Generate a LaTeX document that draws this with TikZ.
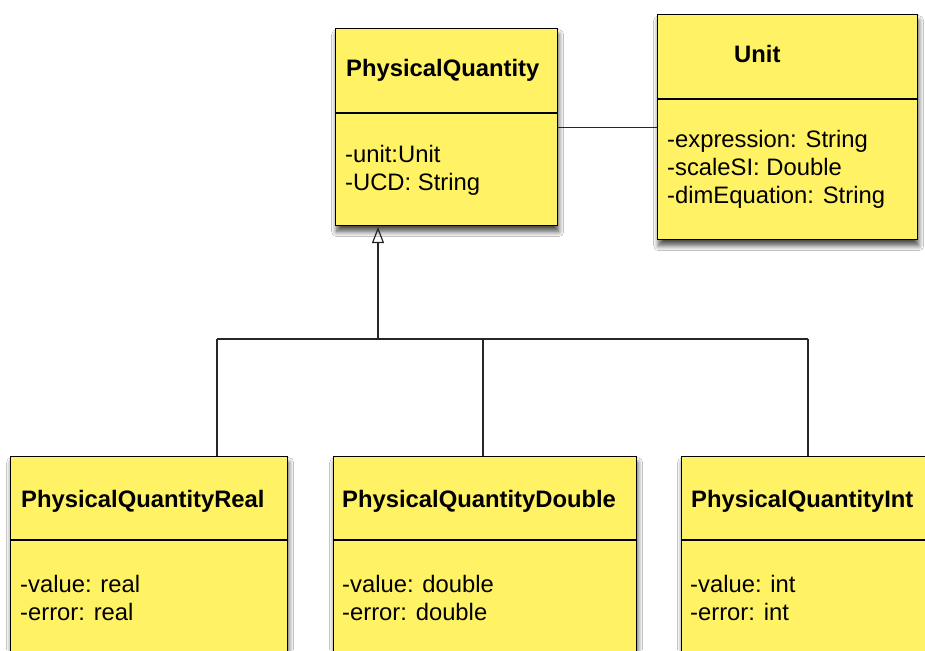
\documentclass[tikz,border=0pt]{standalone}
\usepackage{fontspec}
\setmainfont{Liberation Sans}
\usetikzlibrary{arrows.meta,shadows.blur,calc}
\definecolor{umlyellow}{RGB}{255,242,100}
\tikzset{
  classbox/.style={draw=black, line width=1.3pt, fill=umlyellow, inner sep=0pt, anchor=north west,
    blur shadow={shadow xshift=1pt, shadow yshift=-6pt, shadow blur radius=5pt, shadow blur steps=8, shadow opacity=70}},
  divider/.style={draw=black, line width=1.1pt},
  cname/.style={anchor=base west, inner sep=0pt, font=\fontsize{23.8}{28}\selectfont\bfseries},
  attr/.style={anchor=base west, inner sep=0pt, font=\fontsize{23.8}{28}\selectfont},
  conn/.style={draw=black!85, line width=1.2pt},
  genarrow/.style={conn, -{Triangle[open, length=16pt, width=12pt, line width=1.2pt]}}
}
\begin{document}
\begin{tikzpicture}[x=1pt,y=-1pt]
\useasboundingbox (0,0) rectangle (925,650);
\clip (0,0) rectangle (925,650);
\fill[white] (0,0) rectangle (925,650);

% classes
\node[classbox, minimum width=222pt, minimum height=197pt] (pq) at (335,28) {};
\node[classbox, minimum width=260pt, minimum height=225pt] (unit) at (657,14) {};
\node[classbox, minimum width=277pt, minimum height=260pt] (real) at (10,456) {};
\node[classbox, minimum width=303pt, minimum height=260pt] (double) at (333,456) {};
\node[classbox, minimum width=254pt, minimum height=260pt] (int) at (681,456) {};

% dividers
\draw[divider] (pq.west |- 0,113) -- (pq.east |- 0,113);
\draw[divider] (unit.west |- 0,99) -- (unit.east |- 0,99);
\draw[divider] (real.west |- 0,540) -- (real.east |- 0,540);
\draw[divider] (double.west |- 0,540) -- (double.east |- 0,540);
\draw[divider] (int.west |- 0,540) -- (int.east |- 0,540);

% texts
\node[cname] (pqn) at (346,77) {PhysicalQuantity};
\node[attr] (pqa1) at (345,162) {-unit:Unit};
\node[attr] (pqa2) at (345,190) {-UCD: String};

\node[cname] (unitn) at (734,63) {Unit};
\node[attr] (ua1) at (667,147) {-expression: String};
\node[attr] (ua2) at (667,175) {-scaleSI: Double};
\node[attr] (ua3) at (667,203) {-dimEquation: String};

\node[cname] (realn) at (21,507) {PhysicalQuantityReal};
\node[attr] (ra1) at (20,592) {-value: real};
\node[attr] (ra2) at (20,620) {-error: real};

\node[cname] (doublen) at (342,507) {PhysicalQuantityDouble};
\node[attr] (da1) at (342,592) {-value: double};
\node[attr] (da2) at (342,620) {-error: double};

\node[cname] (intn) at (691,507) {PhysicalQuantityInt};
\node[attr] (ia1) at (690,592) {-value: int};
\node[attr] (ia2) at (690,620) {-error: int};

% association
\draw[conn] (pq.east) -- (unit.west);

% generalization
\coordinate (j) at (378,339);
\coordinate (jr) at (217,339);
\coordinate (jd) at (483,339);
\coordinate (ji) at (808,339);
\coordinate (tip) at (378,227);
\draw[genarrow] (j) -- (tip);
\draw[conn] (jr) -- (ji);
\draw[conn] (jr) -- (jr |- real.north);
\draw[conn] (jd) -- (jd |- double.north);
\draw[conn] (ji) -- (ji |- int.north);
\end{tikzpicture}
\end{document}
